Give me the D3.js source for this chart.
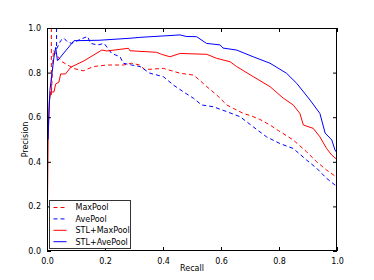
<!DOCTYPE html>
<html>
<head>
<meta charset="utf-8">
<script src="https://cdn.jsdelivr.net/npm/d3@7"></script>
<style>
    html, body { margin: 0; padding: 0; background: #fff; }
    svg text { font-family: "DejaVu Sans", sans-serif; fill: #000; }
</style>
</head>
<body>
<div id="chart"></div>
<script>
// [recall, precision] pairs
const MAX_POOL = [
    [0.015, 1.0], [0.015, 0.7], [0.022, 0.9], [0.05, 0.85], [0.091, 0.819], [0.125, 0.808],
    [0.16, 0.827], [0.206, 0.834], [0.263, 0.834], [0.292, 0.842], [0.32, 0.834], [0.335, 0.815],
    [0.355, 0.815], [0.401, 0.819], [0.459, 0.797], [0.505, 0.789], [0.528, 0.764], [0.551, 0.737],
    [0.585, 0.7], [0.62, 0.655], [0.642, 0.64], [0.677, 0.617], [0.706, 0.605], [0.734, 0.59],
    [0.769, 0.565], [0.798, 0.54], [0.849, 0.498], [0.895, 0.445], [0.93, 0.4], [0.964, 0.363],
    [1.0, 0.33]
];
const AVE_POOL = [
    [0.033, 1.0], [0.033, 0.906], [0.047, 0.943], [0.058, 0.955], [0.07, 0.938], [0.085, 0.931],
    [0.114, 0.949], [0.14, 0.962], [0.15, 0.931], [0.175, 0.924], [0.197, 0.931], [0.223, 0.886],
    [0.252, 0.871], [0.263, 0.842], [0.292, 0.834], [0.321, 0.827], [0.355, 0.797], [0.401, 0.782],
    [0.436, 0.744], [0.47, 0.714], [0.505, 0.685], [0.533, 0.655], [0.573, 0.647], [0.62, 0.625],
    [0.666, 0.602], [0.711, 0.557], [0.757, 0.512], [0.803, 0.482], [0.849, 0.46], [0.895, 0.408],
    [0.93, 0.371], [0.964, 0.326], [0.993, 0.296], [1.0, 0.29]
];
const STL_MAX_POOL = [
    [0, 0.02], [0.004, 0.5], [0.008, 0.668], [0.013, 0.713], [0.024, 0.713], [0.03, 0.749],
    [0.041, 0.757], [0.047, 0.794], [0.064, 0.794], [0.082, 0.824], [0.128, 0.853], [0.189, 0.901],
    [0.206, 0.897], [0.281, 0.909], [0.286, 0.898], [0.378, 0.891], [0.395, 0.882], [0.424, 0.871],
    [0.459, 0.886], [0.551, 0.882], [0.585, 0.864], [0.597, 0.86], [0.631, 0.849], [0.654, 0.827],
    [0.711, 0.782], [0.769, 0.737], [0.815, 0.685], [0.849, 0.655], [0.872, 0.617], [0.884, 0.565],
    [0.918, 0.55], [0.941, 0.512], [0.964, 0.46], [0.982, 0.43], [1.0, 0.41]
];
const STL_AVE_POOL = [
    [0, 1.0], [0.003, 0.5], [0.01, 0.72], [0.024, 0.869], [0.03, 0.913], [0.036, 0.853],
    [0.093, 0.943], [0.18, 0.945], [0.286, 0.954], [0.32, 0.958], [0.459, 0.969], [0.48, 0.962],
    [0.516, 0.961], [0.55, 0.931], [0.597, 0.924], [0.607, 0.91], [0.654, 0.901], [0.711, 0.871],
    [0.769, 0.842], [0.826, 0.797], [0.861, 0.752], [0.907, 0.677], [0.941, 0.617], [0.959, 0.529],
    [0.982, 0.498], [0.993, 0.453], [1.0, 0.44]
];

const SERIES_NAMES = ['MaxPool', 'AvePool', 'STL+MaxPool', 'STL+AvePool'];
const SERIES_DATA = [MAX_POOL, AVE_POOL, STL_MAX_POOL, STL_AVE_POOL];
const SERIES_COLORS = ['#ff0000', '#0000ff', '#ff0000', '#0000ff'];
const SERIES_DASHED = [true, true, false, false];

const X_TICKS = [0.0, 0.2, 0.4, 0.6, 0.8, 1.0];
const Y_TICKS = [0.0, 0.2, 0.4, 0.6, 0.8, 1.0];
const X_LABEL = 'Recall';
const Y_LABEL = 'Precision';

const WIDTH = 374, HEIGHT = 280;
const PLOT = { left: 47, right: 337, top: 28, bottom: 251 };
const TICK_LEN = 4;
const FONT_SIZE = 8;

const svg = d3.select('#chart').append('svg')
    .attr('width', WIDTH)
    .attr('height', HEIGHT);

const x = d3.scaleLinear().domain([0, 1]).range([PLOT.left, PLOT.right]);
const y = d3.scaleLinear().domain([0, 1]).range([PLOT.bottom, PLOT.top]);

// clip curves to the axes box
svg.append('defs').append('clipPath').attr('id', 'plot-clip')
    .append('rect')
    .attr('x', PLOT.left).attr('y', PLOT.top)
    .attr('width', PLOT.right - PLOT.left).attr('height', PLOT.bottom - PLOT.top);

const line = d3.line().x(d => x(d[0])).y(d => y(d[1]));

const curves = svg.append('g').attr('clip-path', 'url(#plot-clip)');
SERIES_DATA.forEach((data, i) => {
    curves.append('path')
        .datum(data)
        .attr('d', line)
        .attr('fill', 'none')
        .attr('stroke', SERIES_COLORS[i])
        .attr('stroke-width', 1)
        .attr('stroke-dasharray', SERIES_DASHED[i] ? '4,3' : null);
});

// axes: matplotlib classic look, ticks pointing inwards on all four sides
const fmt = d3.format('.1f');
const styleAxis = g => {
    g.select('.domain').remove();
    g.selectAll('.tick line').attr('stroke', '#000');
    g.selectAll('.tick text').attr('font-size', FONT_SIZE).attr('font-family', '"DejaVu Sans", sans-serif');
};

svg.append('g')
    .attr('transform', `translate(0,${PLOT.bottom})`)
    .call(d3.axisBottom(x).tickValues(X_TICKS).tickFormat(fmt).tickSizeInner(-TICK_LEN).tickPadding(TICK_LEN + 3))
    .call(styleAxis);
svg.append('g')
    .attr('transform', `translate(0,${PLOT.top})`)
    .call(d3.axisTop(x).tickValues(X_TICKS).tickFormat('').tickSizeInner(-TICK_LEN))
    .call(styleAxis);
svg.append('g')
    .attr('transform', `translate(${PLOT.left},0)`)
    .call(d3.axisLeft(y).tickValues(Y_TICKS).tickFormat(fmt).tickSizeInner(-TICK_LEN).tickPadding(TICK_LEN + 2))
    .call(styleAxis);
svg.append('g')
    .attr('transform', `translate(${PLOT.right},0)`)
    .call(d3.axisRight(y).tickValues(Y_TICKS).tickFormat('').tickSizeInner(-TICK_LEN))
    .call(styleAxis);

svg.append('rect')
    .attr('x', PLOT.left + 0.5).attr('y', PLOT.top + 0.5)
    .attr('width', PLOT.right - PLOT.left - 1).attr('height', PLOT.bottom - PLOT.top - 1)
    .attr('fill', 'none')
    .attr('stroke', '#000')
    .attr('stroke-width', 1);

svg.append('text')
    .attr('x', (PLOT.left + PLOT.right) / 2)
    .attr('y', 271)
    .attr('text-anchor', 'middle')
    .attr('font-size', FONT_SIZE)
    .text(X_LABEL);

svg.append('text')
    .attr('transform', `translate(28,${(PLOT.top + PLOT.bottom) / 2}) rotate(-90)`)
    .attr('text-anchor', 'middle')
    .attr('font-size', FONT_SIZE)
    .text(Y_LABEL);

// legend, lower left corner
const legend = svg.append('g').attr('transform', 'translate(49.5,200.5)');
legend.append('rect')
    .attr('width', 81).attr('height', 48)
    .attr('fill', '#fff')
    .attr('stroke', '#333')
    .attr('stroke-width', 1);

SERIES_NAMES.forEach((name, i) => {
    const rowY = 7 + i * 11.4;
    legend.append('line')
        .attr('x1', 4).attr('x2', 17)
        .attr('y1', rowY).attr('y2', rowY)
        .attr('stroke', SERIES_COLORS[i])
        .attr('stroke-width', 1)
        .attr('stroke-dasharray', SERIES_DASHED[i] ? '4,3' : null);
    legend.append('text')
        .attr('x', 26)
        .attr('y', rowY)
        .attr('dy', '0.35em')
        .attr('font-size', FONT_SIZE)
        .text(name);
});
</script>
</body>
</html>
